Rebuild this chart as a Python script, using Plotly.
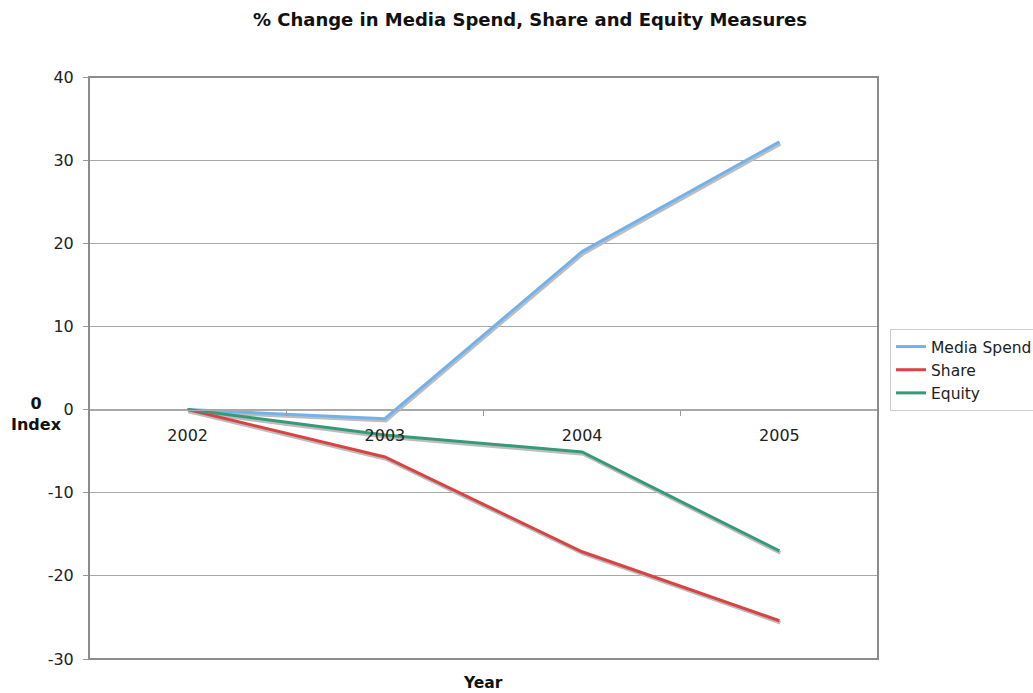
import plotly.graph_objects as go

years = ["2002", "2003", "2004", "2005"]
media_spend = [0, -1.1, 19.0, 32.2]
share = [0, -5.7, -17.1, -25.4]
equity = [0, -3.05, -5.1, -17.0]

y_tick_vals = [-30, -20, -10, 0, 10, 20, 30, 40]
y_tick_text = ["-30", "-20", "-10", "0", "10", "20", "30", "40"]

series = [("Media Spend", media_spend, "#72b2ec"),
          ("Share", share, "#d94343"),
          ("Equity", equity, "#379a77")]

FONT = "DejaVu Sans, Verdana, sans-serif"
L, R, T, B = 89, 155, 77, 34
W, H = 1033, 693
plot_h = H - T - B
plot_w = W - L - R
ymin, ymax = -30, 40
px_per_unit = plot_h / (ymax - ymin)
sy = 2.0 / px_per_unit          # shadow offset down (2px)
sx = 1.0 / (plot_w / 4.0)       # shadow offset right (1px)

fig = go.Figure()

# invisible trace on base axes so the base subplot (grid, ticks) is built
fig.add_trace(go.Scatter(x=years, y=media_spend, mode="lines", xaxis="x", yaxis="y",
                         line=dict(color="rgba(0,0,0,0)", width=0), showlegend=False,
                         hoverinfo="skip"))
# shadows (x2/y2)
for name, vals, col in series:
    fig.add_trace(go.Scatter(x=years, y=vals, mode="lines", xaxis="x2", yaxis="y2",
                             line=dict(color="#bdbdbd", width=3.5), showlegend=False,
                             hoverinfo="skip"))
# main lines (x3/y3)
for name, vals, col in series:
    fig.add_trace(go.Scatter(x=years, y=vals, mode="lines", name=name, xaxis="x3", yaxis="y3",
                             line=dict(color=col, width=3)))

zero_pos = (0 - ymin) / (ymax - ymin)

fig.update_layout(
    width=W, height=H,
    margin=dict(l=L, r=R, t=T, b=B, autoexpand=False),
    paper_bgcolor="white", plot_bgcolor="white",
    font=dict(family=FONT, size=16, color="#222"),
    title=dict(text="<b>% Change in Media Spend, Share and Equity Measures</b>",
               x=(530) / W, xanchor="center", y=1 - 20 / H, yanchor="middle",
               font=dict(family=FONT, size=18, color="#111")),
    xaxis=dict(type="category", categoryorder="array", categoryarray=years,
               range=[-0.5, 3.5], anchor="free", position=zero_pos,
               showline=True, linecolor="#aaaaaa", linewidth=1,
               ticks="outside", tickson="boundaries", ticklen=5, tickcolor="#999",
               ticklabelstandoff=11, showgrid=False, zeroline=False,
               tickfont=dict(family=FONT, size=16, color="#222")),
    yaxis=dict(range=[ymin, ymax], tickvals=y_tick_vals, ticktext=y_tick_text,
               showgrid=True, gridcolor="#a8a8a8",
               gridwidth=1, zeroline=False, showline=False, ticks="outside",
               ticklen=5, tickcolor="#999", ticklabelstandoff=6,
               tickfont=dict(family=FONT, size=16, color="#222")),
    xaxis2=dict(type="category", categoryorder="array", categoryarray=years,
                range=[-0.5 - sx, 3.5 - sx], overlaying="x", visible=False),
    yaxis2=dict(range=[ymin + sy, ymax + sy], overlaying="y", visible=False),
    xaxis3=dict(type="category", categoryorder="array", categoryarray=years,
                range=[-0.5, 3.5], overlaying="x", visible=False),
    yaxis3=dict(range=[ymin, ymax], overlaying="y", visible=False),
    legend=dict(x=(890 - L) / plot_w, y=(H - B - 329) / plot_h, xanchor="left", yanchor="top",
                bordercolor="#cccccc", borderwidth=1, bgcolor="white",
                font=dict(family=FONT, size=15.5, color="#222"), tracegroupgap=0,
                itemwidth=30),
    showlegend=True,
)

# plot frame
fig.add_shape(type="rect", xref="paper", yref="paper", x0=0, x1=1, y0=0, y1=1,
              line=dict(color="#8c8c8c", width=2), layer="above")

fig.add_annotation(text="<b>0<br>Index</b>", xref="paper", yref="paper",
                   x=-(L - 36) / plot_w, y=zero_pos - 4 / plot_h, xanchor="center", yanchor="middle",
                   showarrow=False, font=dict(family=FONT, size=16, color="#111"))
fig.add_annotation(text="<b>Year</b>", xref="paper", yref="paper",
                   x=(483 - L) / plot_w, y=-(683 - (H - B)) / plot_h, xanchor="center", yanchor="middle",
                   showarrow=False, font=dict(family=FONT, size=15.5, color="#111"))

fig.write_html("out.html")
